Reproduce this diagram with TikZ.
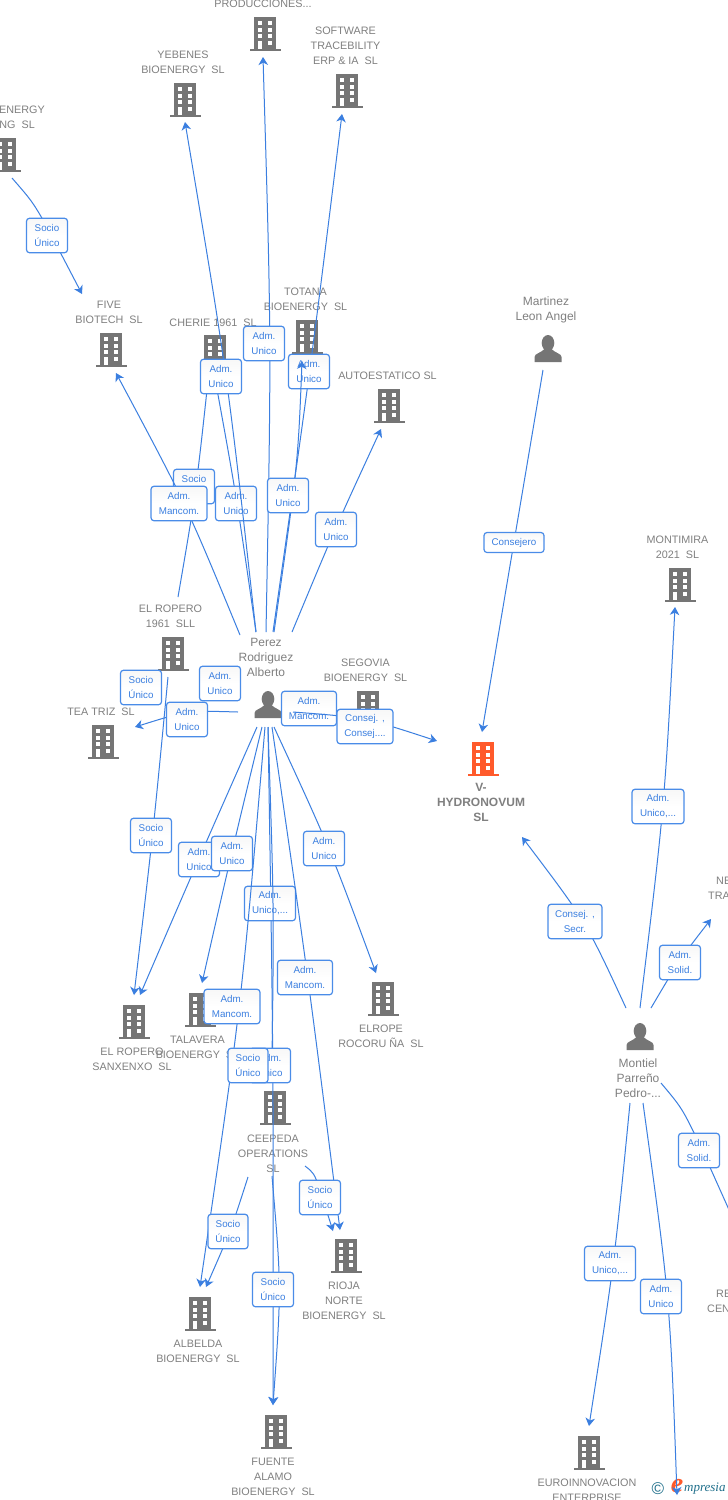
\documentclass[tikz,border=0pt]{standalone}
\usepackage{fontspec}
\setmainfont{Liberation Sans}
\newfontfamily\logofont{Liberation Serif}
\usetikzlibrary{arrows.meta,calc}
\definecolor{gtext}{HTML}{808080}
\definecolor{gicon}{HTML}{757575}
\definecolor{blink}{HTML}{3B7FE0}
\definecolor{bbord}{HTML}{4A8CE8}
\definecolor{orng}{HTML}{FF5A2B}
\definecolor{logot}{HTML}{1F6F8B}
\tikzset{
  conn/.style={draw=blink,line width=1pt},
  arr/.style={-{Stealth[length=8pt,width=9.5pt,inset=2.4pt]}},
  lab/.style={draw=bbord,line width=1.2pt,rounded corners=3pt,top color=black!3,bottom color=white,middle color=white,text=blink,align=center,
    font=\fontsize{9.8}{15}\selectfont,inner sep=0pt,minimum height=34.5pt,yshift=-0.5pt},
  nmtxt/.style={text=gtext,align=center,font=\fontsize{10.8}{15}\selectfont,inner sep=0pt,yshift=-0.5pt},
  pertxt/.style={nmtxt,font=\fontsize{12}{15}\selectfont},
  bnmtxt/.style={nmtxt,font=\fontsize{12}{15}\selectfont\bfseries},
}
% building icon: node name, x, y, colour
\newcommand\bld[4]{%
  \node[inner sep=0pt,minimum width=31pt,minimum height=34pt] (#1) at (#2,#3) {};
  \begin{scope}[shift={(#2,#3)}]
    \fill[#4] (-11.3,-17) rectangle (11.3,14.5);
    \fill[#4] (-15.5,14.5) rectangle (15.5,17);
    \foreach \r in {-13.5,-6.5,0.1}{
      \fill[white] (-7.5,\r) rectangle (-3,\r+4.1);
      \fill[white] (2.7,\r) rectangle (7.2,\r+4.1);}
    \fill[white] (-7.5,6.6) rectangle (-3,14.5);
    \fill[white] (2.7,6.6) rectangle (7.2,10.6);
  \end{scope}}
% person icon: node name, x, y
\newcommand\psn[3]{%
  \node[inner sep=0pt,minimum width=27pt,minimum height=27pt] (#1) at (#2,#3) {};
  \begin{scope}[shift={(#2,#3)}]
    \fill[gicon] (0,-6) ellipse (6.3 and 8);
    \fill[gicon] (-13.5,13) -- (-13.5,8) .. controls (-13.5,4.5) and (-7,4) .. (-3.5,0) -- (3.5,0)
       .. controls (7,4) and (13.5,4.5) .. (13.5,8) -- (13.5,13) -- cycle;
  \end{scope}}
% link: id, start, middle, end, label pos, label width, label text, arrow style
\newcommand\lnk[8]{%
  \coordinate (#1s) at (#2); \coordinate (#1m) at (#3); \coordinate (#1t) at (#4);
  \draw[conn,#8] (#1s) .. controls ($2*(#1m)-0.5*(#1s)-0.5*(#1t)$) .. (#1t);
  \node[lab,minimum width=#6pt] (#1) at (#5) {#7};}
% bent link: id, start, control, join, end, label pos, label width, label text, arrow style
\newcommand\lnkc[9]{%
  \coordinate (#1s) at (#2); \coordinate (#1c) at (#3); \coordinate (#1j) at (#4); \coordinate (#1t) at (#5);
  \draw[conn,#9] (#1s) .. controls (#1c) .. (#1j) -- (#1t);
  \node[lab,minimum width=#7pt] (#1) at (#6) {#8};}
\begin{document}
\begin{tikzpicture}[x=1pt,y=-1pt]
\useasboundingbox (0,0) rectangle (728,1500);
\clip (0,0) rectangle (728,1500);
\fill[white] (0,0) rectangle (728,1500);

% buildings
\bld{prod}{265}{34}{gicon}
\bld{soft}{347}{91}{gicon}
\bld{yebe}{185}{100}{gicon}
\bld{ener}{5}{155}{gicon}
\bld{five}{111}{350}{gicon}
\bld{cher}{215}{352}{gicon}
\bld{tota}{307}{337}{gicon}
\bld{auto}{389}{406}{gicon}
\bld{rop}{173}{654}{gicon}
\bld{teat}{103}{742}{gicon}
\bld{sego}{368}{708}{gicon}
\bld{vhyd}{483}{759}{orng}
\bld{mont}{680}{585}{gicon}
\bld{elro}{383}{999}{gicon}
\bld{tala}{200}{1010}{gicon}
\bld{sanx}{134}{1022}{gicon}
\bld{ceep}{275}{1108}{gicon}
\bld{albe}{200}{1314}{gicon}
\bld{rioj}{346}{1256}{gicon}
\bld{fuen}{276}{1432}{gicon}
\bld{euro}{589}{1453}{gicon}
\psn{mart}{548}{349}
\psn{pere}{268}{705}
\psn{monp}{640}{1037}

% names
\node[nmtxt] (tprod) at (263,3) {PRODUCCIONES...};
\node[nmtxt] (tsoft) at (345.5,45) {SOFTWARE\\TRACEBILITY\\ERP \& IA\ \ SL};
\node[nmtxt] (tyebe) at (183,62) {YEBENES\\BIOENERGY\ \ SL};
\node[nmtxt,anchor=east] (tene1) at (45,109) {ENERGY};
\node[nmtxt,anchor=east] (tene2) at (35,124) {NG\ \ SL};
\node[nmtxt] (tfive) at (109,312) {FIVE\\BIOTECH\ \ SL};
\node[nmtxt] (tcher) at (213,322) {CHERIE 1961\ \ SL};
\node[nmtxt] (ttota) at (305.5,299) {TOTANA\\BIOENERGY\ \ SL};
\node[nmtxt] (tauto) at (387.5,375) {AUTOESTATICO SL};
\node[nmtxt] (trop) at (170.5,616) {EL ROPERO\\1961\ \ SLL};
\node[nmtxt] (tteat) at (101,711) {TEA TRIZ\ \ SL};
\node[nmtxt] (tsego) at (365.5,670) {SEGOVIA\\BIOENERGY\ \ SL};
\node[bnmtxt] (tvhyd) at (481,802) {V-\\HYDRONOVUM\\SL};
\node[nmtxt] (tmont) at (677.5,547) {MONTIMIRA\\2021\ \ SL};
\node[nmtxt,anchor=west] (tne1) at (716,880) {NE};
\node[nmtxt,anchor=west] (tne2) at (708,895) {TRA};
\node[nmtxt] (telro) at (381,1036) {ELROPE\\ROCORU ÑA\ \ SL};
\node[nmtxt] (ttala) at (197.5,1047) {TALAVERA\\BIOENERGY\ \ SL};
\node[nmtxt] (tsanx) at (132,1059) {EL ROPERO\\SANXENXO\ \ SL};
\node[nmtxt] (tceep) at (273,1153) {CEEPEDA\\OPERATIONS\\SL};
\node[nmtxt] (talbe) at (198,1351) {ALBELDA\\BIOENERGY\ \ SL};
\node[nmtxt] (trioj) at (344,1300) {RIOJA\\NORTE\\BIOENERGY\ \ SL};
\node[nmtxt] (tfuen) at (273,1476) {FUENTE\\ALAMO\\BIOENERGY\ \ SL};
\node[nmtxt] (teuro) at (587,1490) {EUROINNOVACION\\ENTERPRISE};
\node[nmtxt,anchor=west] (tre1) at (716,1293) {RE};
\node[nmtxt,anchor=west] (tre2) at (707,1308) {CEN};
\node[pertxt] (tmart) at (546,309) {Martinez\\Leon Angel};
\node[pertxt] (tpere) at (266,657) {Perez\\Rodriguez\\Alberto};
\node[pertxt] (tmonp) at (638,1078) {Montiel\\Parreño\\Pedro-...};

% logo
\node[inner sep=0pt,text=logot,font=\fontsize{17}{17}\selectfont] (logoc) at (658,1489) {©};
\node[inner sep=0pt,text=orng,font=\logofont\itshape\bfseries\fontsize{28}{28}\selectfont] (logoe) at (677,1486) {e};
\node[inner sep=0pt,anchor=west,text=logot,font=\logofont\itshape\fontsize{13}{13}\selectfont] (logot) at (684,1489) {mpresia};

% links
\lnkc{a1}{12,178}{32,201}{46,225}{82,294}{47,235}{41}{Socio\\Único}{arr}
\lnk{a2}{266,632}{268,343}{263,57}{264,343}{41}{Adm.\\Unico}{arr}
\lnk{a3}{273,632}{309,371}{342,114}{309,371}{41}{Adm.\\Unico}{arr}
\lnk{a4}{274,632}{293,480}{302,361}{288,495}{41}{Adm.\\Unico}{arr}
\lnk{a5}{292,632}{336,529}{381,429}{336,529}{41}{Adm.\\Unico}{arr}
\lnk{a6}{178,597}{195,486}{210,362}{194,486}{41}{Socio\\Único}{}
\lnk{a7}{256,632}{235,495}{212,362}{236,503}{41}{Adm.\\Unico}{}
\lnk{a8}{256,632}{224,376}{185,122}{221,376}{41}{Adm.\\Unico}{arr}
\lnk{a9}{240,635}{182,504}{116,373}{179,503}{56}{Adm.\\Mancom.}{arr}
\lnk{b1}{238,712}{187,715}{135,727}{187,719}{41}{Adm.\\Unico}{arr}
\node[lab,minimum width=41pt] (b2) at (220,683) {Adm.\\Unico};
\node[lab,minimum width=41pt] (b3) at (141,687) {Socio\\Único};
\lnk{b4}{168,677}{152,835}{134,995}{151,835}{41}{Socio\\Único}{arr}
\lnk{b5}{290,708}{310,708}{345,712}{309,708}{55}{Adm.\\Mancom.}{}
\lnk{b6}{293,712}{365,722}{437,741}{365,726}{56}{Consej. ,\\Consej....}{arr}
\lnk{c1}{257,727}{199,859}{140,995}{199,859}{41}{Adm.\\Unico}{arr}
\lnk{c2}{262,727}{232,853}{202,983}{232,853}{41}{Adm.\\Unico}{arr}
\lnk{c3}{274,727}{327,848}{376,973}{324,848}{41}{Adm.\\Unico}{arr}
\lnk{c4}{268,727}{272,1065}{273,1405}{270,903}{51}{Adm.\\Unico,...}{arr}
\lnk{c5}{268,727}{272,900}{272,1060}{270,1065}{41}{Adm.\\Unico}{}
\lnk{c6}{265,727}{237,1006}{200,1287}{232,1006}{56}{Adm.\\Mancom.}{arr}
\lnk{c7}{272,727}{307,977}{340,1230}{305,977}{55}{Adm.\\Mancom.}{arr}
\lnk{c8}{272,1176}{277,1289}{273,1405}{273,1289}{41}{Socio\\Único}{arr}
\lnk{c9}{248,1177}{229,1231}{206,1287}{228,1231}{40}{Socio\\Único}{arr}
\lnkc{d1}{305,1166}{314,1173}{320,1190}{333,1231}{320,1197}{41}{Socio\\Único}{arr}
\node[lab,minimum width=40pt] (d2) at (248,1065) {Socio\\Único};
\lnk{e1}{543,370}{514,542}{482,732}{514,542}{60pt,minimum height=20}{Consejero}{arr}
\lnk{f1}{626,1008}{580,922}{522,837}{575,921}{54}{Consej. ,\\Secr.}{arr}
\lnk{f2}{640,1008}{661,807}{675,607}{658,806}{52}{Adm.\\Unico,...}{arr}
\lnk{f3}{651,1008}{680,962}{711,919}{680,962}{41}{Adm.\\Solid.}{arr}
\lnkc{f4}{661,1083}{682,1108}{700,1145}{730,1212}{699,1150}{41}{Adm.\\Solid.}{}
\lnk{f5}{630,1103}{612,1263}{589,1426}{610,1263}{51}{Adm.\\Unico,...}{arr}
\lnk{f6}{643,1103}{665,1299}{677,1495}{661,1296}{41}{Adm.\\Unico}{arr}
\end{tikzpicture}
\end{document}
